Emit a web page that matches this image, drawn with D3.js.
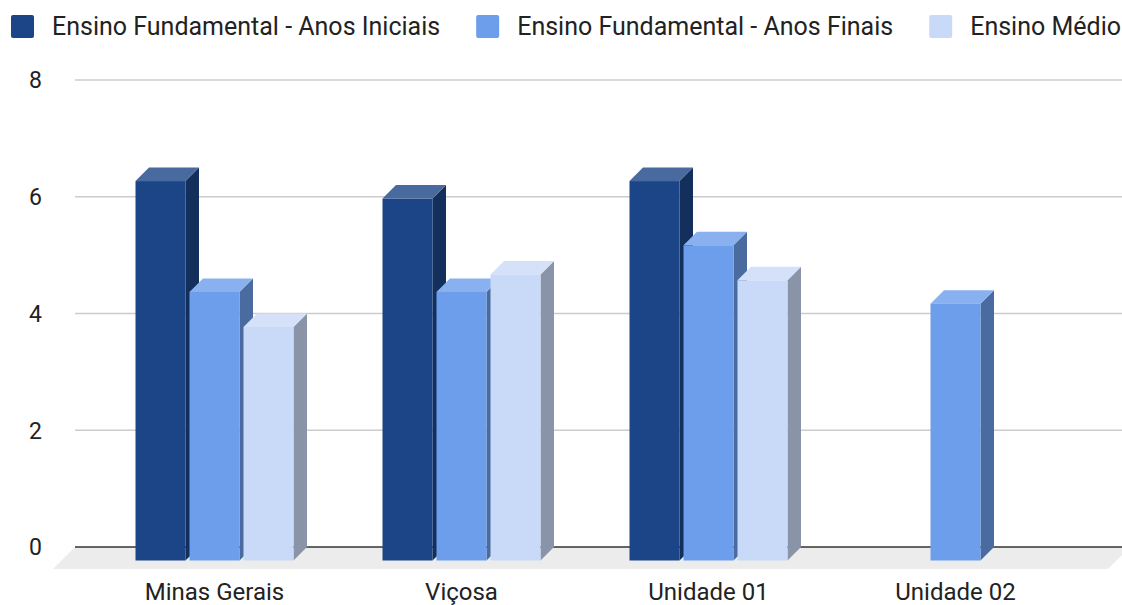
<!DOCTYPE html>
<html>
<head>
<meta charset="utf-8">
<script src="https://cdn.jsdelivr.net/npm/d3@7"></script>
<style>
  body { margin: 0; background: #fff; }
  text { font-family: Roboto, "Liberation Sans", sans-serif; fill: #222; }
</style>
</head>
<body>
<script>
var categories = ["Minas Gerais", "Viçosa", "Unidade 01", "Unidade 02"];
var series = ["Ensino Fundamental - Anos Iniciais", "Ensino Fundamental - Anos Finais", "Ensino Médio"];
var anosIniciais = [6.5, 6.2, 6.5, null];
var anosFinais = [4.6, 4.6, 5.4, 4.4];
var ensinoMedio = [4.0, 4.9, 4.8, null];
var yTicks = [0, 2, 4, 6, 8];
var colors = ["#1c4587", "#6d9eeb", "#c9daf8"];

var values = [anosIniciais, anosFinais, ensinoMedio];
var width = 1122, height = 605;
var depth = 13.5;      // 3d offset of the bars
var floorDepth = 22;   // 3d offset of the floor

var svg = d3.select("body").append("svg")
    .attr("width", width)
    .attr("height", height);

// back plane scales
var y = d3.scaleLinear().domain([0, 8]).range([547, 80]);
var x0 = d3.scaleBand().domain(categories).range([91, 1079]);
var x1 = d3.scaleBand().domain(series).range([44.5, 202.5]).paddingInner(0.074);

var plotLeft = 75, plotRight = 1130;

// floor
svg.append("polygon")
    .attr("points", [
      [plotLeft, y(0)], [plotRight, y(0)],
      [plotRight - floorDepth, y(0) + floorDepth], [plotLeft - floorDepth, y(0) + floorDepth]
    ].join(" "))
    .style("fill", "#ececec");

// gridlines
svg.append("g").selectAll("line")
    .data(yTicks.filter(function(t) { return t > 0; }))
    .enter().append("line")
    .attr("x1", plotLeft).attr("x2", width)
    .attr("y1", function(d) { return y(d); })
    .attr("y2", function(d) { return y(d); })
    .style("stroke", "#cccccc")
    .style("stroke-width", 1.3);

svg.append("line")
    .attr("x1", plotLeft).attr("x2", width)
    .attr("y1", y(0)).attr("y2", y(0))
    .style("stroke", "#333")
    .style("stroke-width", 1.5);

// y labels
svg.append("g").selectAll("text")
    .data(yTicks)
    .enter().append("text")
    .attr("x", 42)
    .attr("y", function(d) { return y(d); })
    .attr("dy", "0.36em")
    .attr("text-anchor", "end")
    .style("font-size", "23px")
    .text(function(d) { return d; });

// bars
var bars = [];
categories.forEach(function(c, ci) {
  series.forEach(function(s, si) {
    if (values[si][ci] != null) bars.push({cat: c, s: s, si: si, v: values[si][ci]});
  });
});

var g = svg.append("g").selectAll("g")
    .data(bars)
    .enter().append("g");

function geom(d) {
  var xl = x0(d.cat) + x1(d.s), xr = xl + x1.bandwidth();
  var yt = y(d.v) + depth, yb = y(0) + depth;
  return {xl: xl, xr: xr, yt: yt, yb: yb};
}

g.append("polygon")
    .attr("points", function(d) {
      var p = geom(d);
      return [[p.xr, p.yt], [p.xr + depth, p.yt - depth], [p.xr + depth, p.yb - depth], [p.xr, p.yb]].join(" ");
    })
    .style("fill", function(d) {
      var c = d3.rgb(colors[d.si]);
      return d3.rgb(c.r * 0.68, c.g * 0.68, c.b * 0.68);
    });

g.append("polygon")
    .attr("points", function(d) {
      var p = geom(d);
      return [[p.xl, p.yt], [p.xl + depth, p.yt - depth], [p.xr + depth, p.yt - depth], [p.xr, p.yt]].join(" ");
    })
    .style("fill", function(d) { return d3.interpolateRgb(colors[d.si], "#fff")(0.2); });

g.append("rect")
    .attr("x", function(d) { return geom(d).xl; })
    .attr("y", function(d) { return geom(d).yt; })
    .attr("width", x1.bandwidth())
    .attr("height", function(d) { var p = geom(d); return p.yb - p.yt; })
    .style("fill", function(d) { return colors[d.si]; });

// x labels
svg.append("g").selectAll("text")
    .data(categories)
    .enter().append("text")
    .attr("x", function(d) { return x0(d) + x0.bandwidth() / 2; })
    .attr("y", 600)
    .attr("text-anchor", "middle")
    .style("font-size", "24px")
    .text(function(d) { return d; });

// legend
var lx = 11;
series.forEach(function(s, i) {
  svg.append("rect")
      .attr("x", lx).attr("y", 15)
      .attr("width", 23).attr("height", 23)
      .attr("rx", 2)
      .style("fill", colors[i]);
  var t = svg.append("text")
      .attr("x", lx + 41).attr("y", 35)
      .style("font-size", "25px")
      .text(s);
  lx += 41 + t.node().getComputedTextLength() + 36;
});
</script>
</body>
</html>
